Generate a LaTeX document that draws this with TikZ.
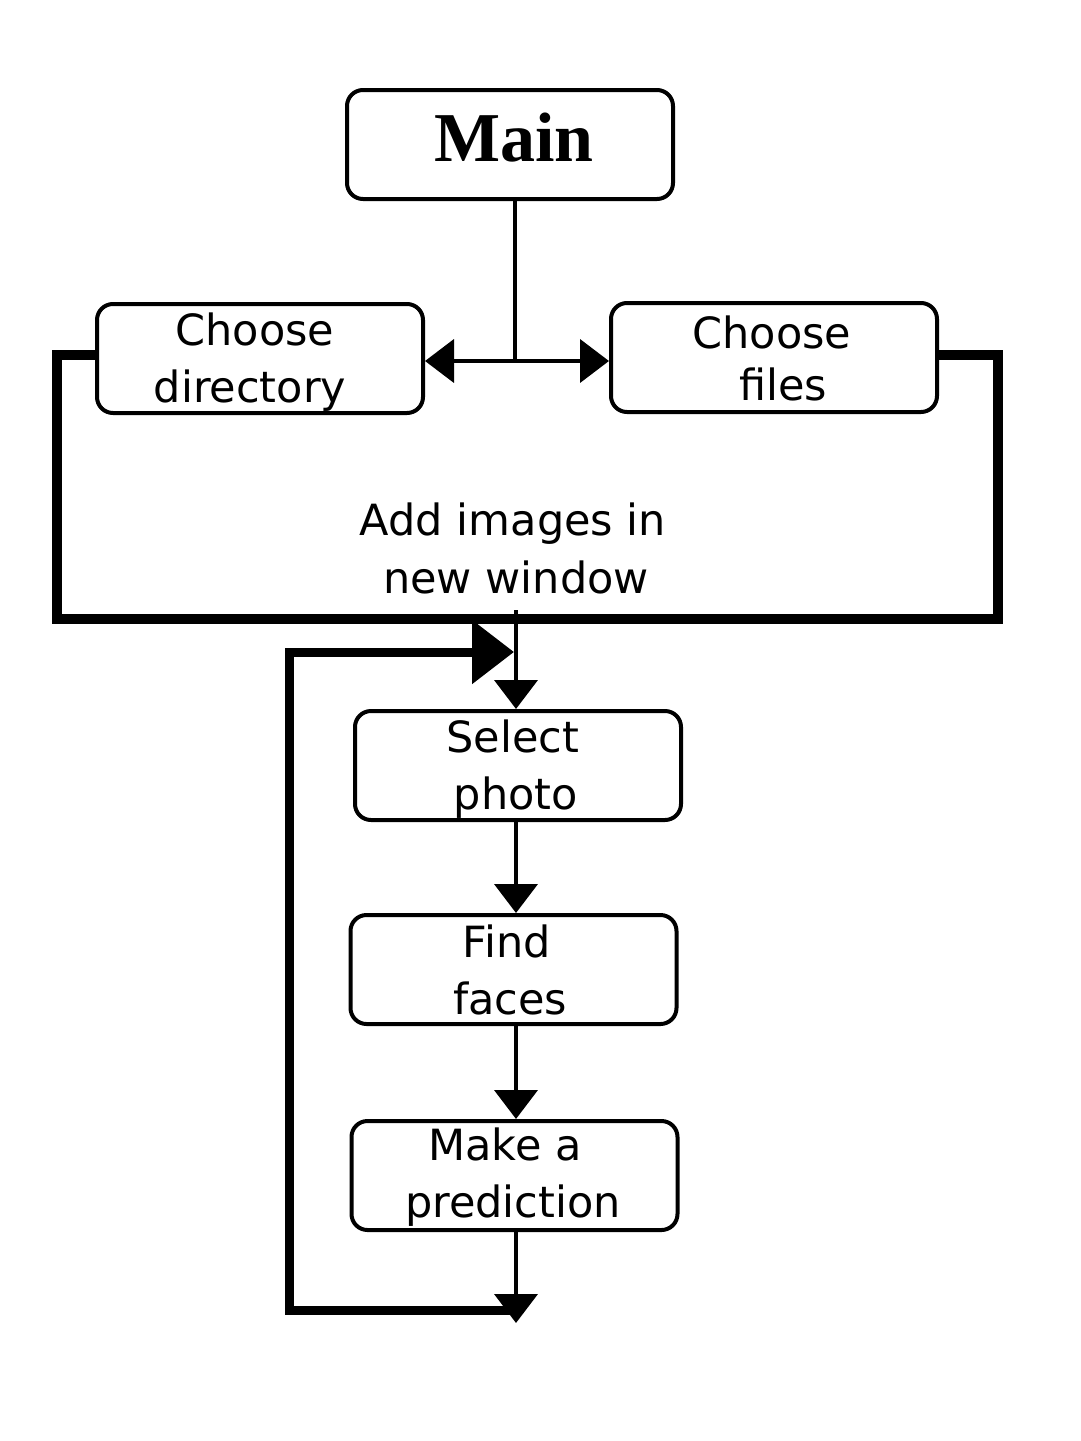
\documentclass[tikz,border=0pt]{standalone}
\usepackage{fontspec}
\setmainfont{DejaVu Sans}
\newfontfamily\mainserif{Liberation Serif}
\usetikzlibrary{arrows.meta}
\begin{document}
\begin{tikzpicture}[x=1pt,y=-1pt,
  box/.style={draw,line width=4pt,rounded corners=16pt,minimum width=326pt,minimum height=109pt,inner sep=0pt},
  txt/.style={font=\fontsize{43}{57}\selectfont,inner sep=0pt,text height=31pt,text depth=0pt},
  thinline/.style={line width=4pt},
  loopline/.style={line width=10pt},
  retline/.style={line width=9pt},
  tipA/.style={-{Triangle[length=29pt,width=43pt]}},
  tipBig/.style={-{Triangle[length=42pt,width=62pt]}}
]
\useasboundingbox (0,0) rectangle (1080,1441);
% boxes
\node[box] (main) at (510,144.5) {};
\node[box] (dir) at (260,358.5) {};
\node[box] (files) at (774,357.5) {};
\node[box] (sel) at (518,765.5) {};
\node[box] (find) at (513.5,969.5) {};
\node[box] (pred) at (514.5,1175.5) {};
% texts
\node[inner sep=0pt,text height=46pt,text depth=0pt,font=\mainserif\bfseries\fontsize{70}{80}\selectfont] (maint) at (514,138.5) {Main};
\node[txt] (dir1) at (255,330) {Choose};
\node[txt] (dir2) at (250,387) {directory};
\node[txt] (fil1) at (772,333) {Choose};
\node[txt] (fil2) at (783,385) {files};
\node[txt] (sel1) at (513,737) {Select};
\node[txt] (sel2) at (516,794) {photo};
\node[txt] (fin1) at (507,942) {Find};
\node[txt] (fin2) at (510,999) {faces};
\node[txt] (pre1) at (505,1145) {Make a};
\node[txt] (pre2) at (513,1202) {prediction};
\node[txt] (add1) at (513,520) {Add images in};
\node[txt] (add2) at (516,578) {new window};
% coordinates
\coordinate (j) at (515,361);
\coordinate (lt) at (57,355);
\coordinate (lb) at (57,619);
\coordinate (rb) at (998,619);
\coordinate (rt) at (998,355);
\coordinate (a1) at (516,610);
\coordinate (bt) at (516,1323);
\coordinate (r0) at (516,1310);
\coordinate (r1) at (289,1310);
\coordinate (r2) at (289,652);
\coordinate (r3) at (514,652);
% connectors
\draw[thinline] (main.south -| j) -- (j);
\draw[thinline,tipA] (j) -- (dir.east |- j);
\draw[thinline,tipA] (j) -- (files.west |- j);
\draw[loopline] (dir.west |- lt) -- (lt) -- (lb) -- (rb) -- (rt) -- (files.east |- rt);
\draw[thinline,tipA] (a1) -- (a1 |- sel.north);
\draw[thinline,tipA] (sel.south -| a1) -- (find.north -| a1);
\draw[thinline,tipA] (find.south -| a1) -- (pred.north -| a1);
\draw[thinline,tipA] (pred.south -| a1) -- (bt);
\draw[retline,tipBig] (r0) -- (r1) -- (r2) -- (r3);
\end{tikzpicture}
\end{document}
